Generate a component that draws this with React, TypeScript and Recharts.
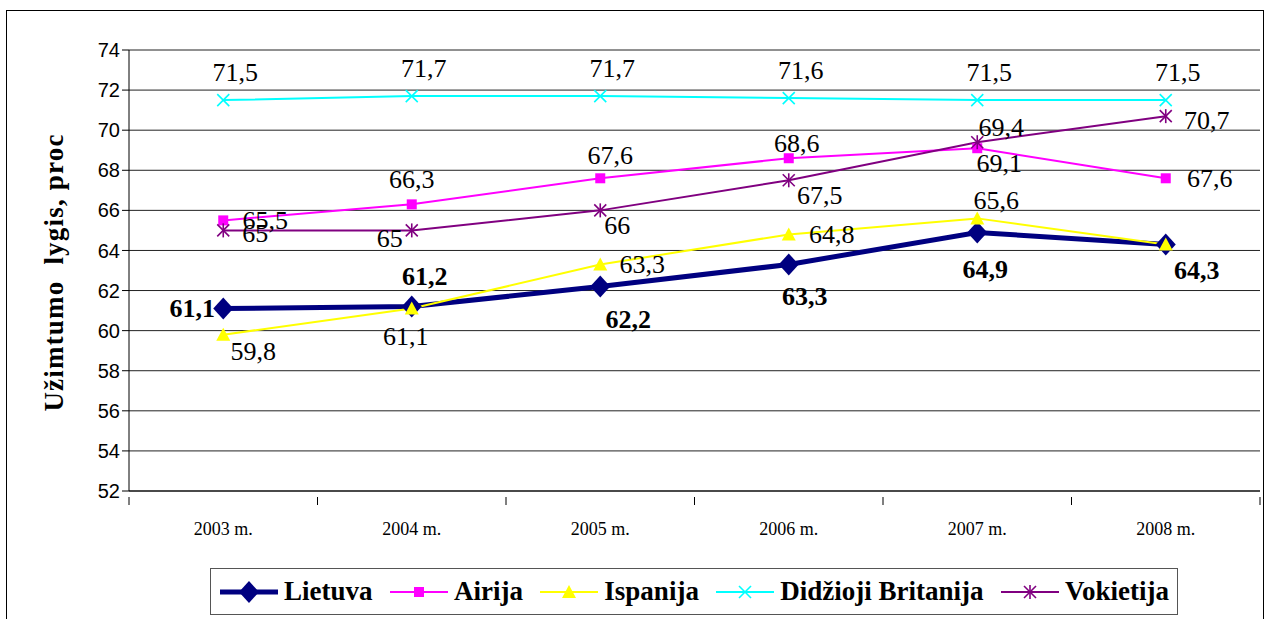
import { LineChart, Line, XAxis, YAxis, CartesianGrid, LabelList } from "recharts";

const years = ["2003 m.", "2004 m.", "2005 m.", "2006 m.", "2007 m.", "2008 m."];
const lietuva = [61.1, 61.2, 62.2, 63.3, 64.9, 64.3];
const airija = [65.5, 66.3, 67.6, 68.6, 69.1, 67.6];
const ispanija = [59.8, 61.1, 63.3, 64.8, 65.6, 64.3];
const britanija = [71.5, 71.7, 71.7, 71.6, 71.5, 71.5];
const vokietija = [65, 65, 66, 67.5, 69.4, 70.7];
const yTicks = [52, 54, 56, 58, 60, 62, 64, 66, 68, 70, 72, 74];

const data = years.map((name, i) => ({
  name,
  lietuva: lietuva[i],
  airija: airija[i],
  ispanija: ispanija[i],
  britanija: britanija[i],
  vokietija: vokietija[i],
}));

// label text centre relative to the point, per series (null = not shown)
const labelOffsets: Record<string, ([number, number] | null)[]> = {
  lietuva: [[-31, 0], [13, -30], [28, 33], [16, 32], [8, 37], [31, 26]],
  airija: [[42, 0], [0, -25], [10, -23], [8, -15], [22, 15], [44, 0]],
  ispanija: [[30, 17], [-6, 28], [42, 0], [43, 0], [19, -18], null],
  britanija: [[12, -28], [12, -28], [12, -28], [12, -28], [12, -28], [12, -28]],
  vokietija: [[32, 3], [-22, 8], [17, 15], [31, 15], [24, -15], [41, 4]],
};

const series = [
  { key: "lietuva", name: "Lietuva", color: "#000080", width: 5, marker: "diamond", bold: true },
  { key: "airija", name: "Airija", color: "#FF00FF", width: 2, marker: "square", bold: false },
  { key: "ispanija", name: "Ispanija", color: "#FFFF00", width: 2, marker: "triangle", bold: false },
  { key: "britanija", name: "Didžioji Britanija", color: "#00FFFF", width: 2, marker: "cross", bold: false },
  { key: "vokietija", name: "Vokietija", color: "#800080", width: 2, marker: "star", bold: false },
];

const PLOT_LEFT = 129;
const PLOT_RIGHT = 1260;
const BAND = (PLOT_RIGHT - PLOT_LEFT) / years.length;

const Marker = ({ cx, cy, type, color }: any) => {
  if (cx == null || cy == null) return null;
  switch (type) {
    case "diamond":
      return <polygon points={`${cx},${cy - 11} ${cx + 10},${cy} ${cx},${cy + 11} ${cx - 10},${cy}`} fill={color} />;
    case "square":
      return <rect x={cx - 5} y={cy - 5} width={10} height={10} fill={color} />;
    case "triangle":
      return <polygon points={`${cx},${cy - 7} ${cx + 7},${cy + 6} ${cx - 7},${cy + 6}`} fill={color} />;
    case "cross":
      return (
        <g stroke={color} strokeWidth={1.6}>
          <line x1={cx - 6} y1={cy - 6} x2={cx + 6} y2={cy + 6} />
          <line x1={cx - 6} y1={cy + 6} x2={cx + 6} y2={cy - 6} />
        </g>
      );
    default:
      return (
        <g stroke={color} strokeWidth={1.6}>
          <line x1={cx - 6} y1={cy - 6} x2={cx + 6} y2={cy + 6} />
          <line x1={cx - 6} y1={cy + 6} x2={cx + 6} y2={cy - 6} />
          <line x1={cx} y1={cy - 7} x2={cx} y2={cy + 7} />
        </g>
      );
  }
};

const XTick = ({ x, y, payload, index }: any) => {
  const left = x - BAND / 2;
  const axisY = y - 2;
  return (
    <g>
      <line x1={left} y1={axisY} x2={left} y2={axisY + 8} stroke="#000" />
      {index === years.length - 1 && <line x1={left + BAND} y1={axisY} x2={left + BAND} y2={axisY + 8} stroke="#000" />}
      <text x={x} y={axisY + 38} textAnchor="middle" fontFamily="'Liberation Serif', 'Times New Roman', serif" fontSize={18} fill="#000">
        {payload.value}
      </text>
    </g>
  );
};

const makeLabel = (key: string, bold: boolean) => (props: any) => {
  const { x, y, value, index } = props;
  const off = labelOffsets[key][index];
  if (!off) return null;
  return (
    <text
      x={x + off[0]}
      y={y + off[1]}
      textAnchor="middle"
      dominantBaseline="central"
      fontFamily="'Liberation Serif', 'Times New Roman', serif"
      fontSize={26}
      fontWeight={bold ? "bold" : "normal"}
      fill="#000"
    >
      {String(value).replace(".", ",")}
    </text>
  );
};

const LegendIcon = ({ type, color, width }: any) => (
  <svg width={60} height={24} style={{ display: "block" }}>
    <line x1={1} y1={12} x2={59} y2={12} stroke={color} strokeWidth={width === 5 ? 5 : 2} />
    <Marker cx={30} cy={12} type={type} color={color} />
  </svg>
);

export default function App() {
  return (
    <div style={{ position: "absolute", left: 0, top: 0, width: 1270, height: 619, background: "#fff", overflow: "hidden" }}>
      <div style={{ position: "absolute", left: 6, top: 10, width: 1256, height: 640, border: "1px solid #000" }} />
      <div style={{ position: "absolute", left: 0, top: 0 }}>
        <LineChart width={1270} height={619} data={data} margin={{ top: 50, right: 1270 - PLOT_RIGHT, bottom: 68, left: 0 }}>
          <CartesianGrid vertical={false} stroke="#222" />
          <XAxis
            dataKey="name"
            height={60}
            stroke="#333"
            strokeWidth={1.5}
            tickLine={false}
            tick={<XTick />}
            interval={0}
            padding={{ left: BAND / 2, right: BAND / 2 }}
          />
          <YAxis
            width={PLOT_LEFT}
            domain={[52, 74]}
            ticks={yTicks}
            interval={0}
            stroke="#000"
            tickSize={7}
            tick={{ fill: "#000", fontSize: 20, fontFamily: "'Liberation Sans', Arial, sans-serif" }}
            label={{
              content: (p: any) => {
                const vb = p.viewBox || { x: 0, y: 50, height: 441 };
                const cx = vb.x + 54;
                const cy = vb.y + vb.height / 2 + 2;
                return (
                  <text
                    x={cx}
                    y={cy}
                    transform={`rotate(-90 ${cx} ${cy})`}
                    textAnchor="middle"
                    dominantBaseline="central"
                    fontFamily="'Liberation Serif', 'Times New Roman', serif"
                    fontWeight="bold"
                    fontSize={27}
                    letterSpacing={1.2}
                    style={{ whiteSpace: "pre" }}
                    fill="#000"
                  >
                    {"Užimtumo  lygis, proc"}
                  </text>
                );
              },
            }}
          />
          {series.map((s) => (
            <Line
              key={s.key}
              dataKey={s.key}
              name={s.name}
              stroke={s.color}
              strokeWidth={s.width}
              isAnimationActive={false}
              dot={(p: any) => <Marker key={`${s.key}-${p.index}`} cx={p.cx} cy={p.cy} type={s.marker} color={s.color} />}
              activeDot={false}
            >
              <LabelList dataKey={s.key} content={makeLabel(s.key, s.bold)} />
            </Line>
          ))}
        </LineChart>
      </div>
      <div
        style={{
          position: "absolute",
          left: 210,
          top: 568,
          width: 968,
          height: 47,
          border: "1px solid #555",
          display: "flex",
          alignItems: "center",
          justifyContent: "space-between",
          padding: "0 8px",
          boxSizing: "border-box",
          fontFamily: "'Liberation Serif', 'Times New Roman', serif",
          fontWeight: "bold",
          fontSize: 27,
        }}
      >
        {series.map((s) => (
          <div key={s.key} style={{ display: "flex", alignItems: "center", gap: 5 }}>
            <LegendIcon type={s.marker} color={s.color} width={s.width} />
            <span>{s.name}</span>
          </div>
        ))}
      </div>
    </div>
  );
}
